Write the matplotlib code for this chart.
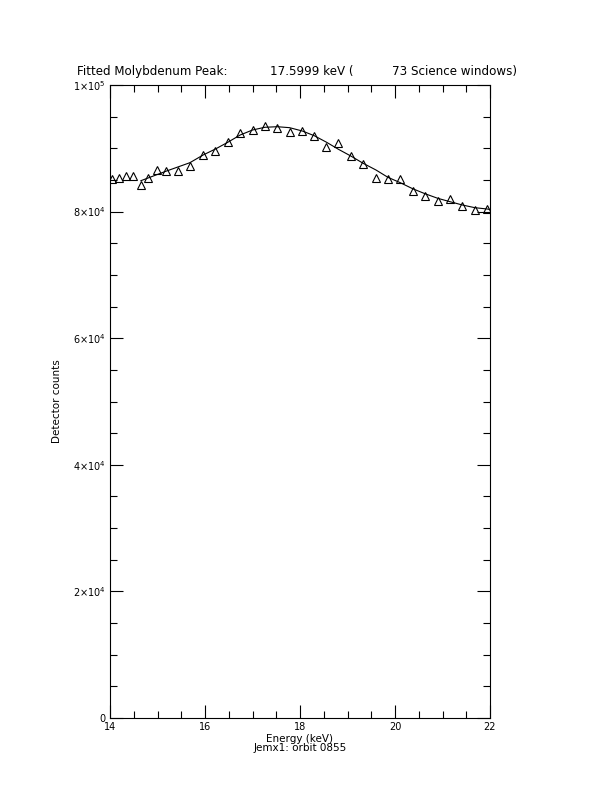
import matplotlib
matplotlib.use("Agg")
import matplotlib.pyplot as plt
from matplotlib.ticker import MultipleLocator, FixedLocator

# measured spectrum (keV, counts)
energy = [14.05, 14.18, 14.34, 14.49, 14.66, 14.81, 14.98, 15.18, 15.44, 15.69,
          15.96, 16.22, 16.48, 16.74, 17.00, 17.26, 17.52, 17.79, 18.05, 18.30,
          18.55, 18.81, 19.07, 19.33, 19.60, 19.85, 20.11, 20.37, 20.63, 20.90,
          21.16, 21.42, 21.68, 21.94]
counts = [85100, 85230, 85670, 85620, 84280, 85230, 86650, 86410, 86490, 87280,
          89020, 89570, 90950, 92460, 92840, 93570, 93250, 92570, 92780, 91990,
          90250, 90890, 88780, 87470, 85310, 85200, 85100, 83300, 82510, 81720,
          82040, 80880, 80300, 80460]

# fitted peak curve
fit_e = [14.65, 15.19, 15.68, 15.96, 16.22, 16.48, 16.74, 17.00, 17.26, 17.52,
         17.78, 18.05, 18.30, 18.56, 18.81, 19.07, 19.33, 19.60, 19.85, 20.11,
         20.37, 20.63, 20.90, 21.16, 21.42, 21.68, 21.94, 22.00]
fit_c = [84880, 86410, 87720, 88940, 89890, 90950, 92100, 92890, 93320, 93410,
         93260, 92730, 91990, 90950, 89840, 88780, 87630, 86570, 85420, 84570,
         83620, 82830, 82100, 81560, 81040, 80620, 80410, 80330]

ytick_vals = [0, 20000, 40000, 60000, 80000, 100000]
ytick_labels = ["0", r"$2{\times}10^{4}$", r"$4{\times}10^{4}$", r"$6{\times}10^{4}$",
                r"$8{\times}10^{4}$", r"$1{\times}10^{5}$"]
xtick_vals = [14, 16, 18, 20, 22]

plt.rcParams['font.family'] = ['DejaVu Sans']
plt.rcParams['mathtext.fontset'] = 'dejavusans'

fig = plt.figure(figsize=(6.12, 7.92), dpi=100)
ax = fig.add_axes([110/612, 1-718/792, 380/612, 633/792])

ax.plot(fit_e, fit_c, color='black', lw=0.8)
ax.plot(energy, counts, linestyle='none', marker='^', markersize=5.5,
        markerfacecolor='none', markeredgecolor='black', markeredgewidth=0.8)

ax.set_xlim(14, 22)
ax.set_ylim(0, 100000)
ax.xaxis.set_major_locator(FixedLocator(xtick_vals))
ax.xaxis.set_minor_locator(MultipleLocator(0.5))
ax.yaxis.set_major_locator(FixedLocator(ytick_vals))
ax.yaxis.set_minor_locator(MultipleLocator(5000))
ax.set_xticklabels([str(v) for v in xtick_vals])
ax.set_yticklabels(ytick_labels)

ax.tick_params(which='both', direction='in', top=True, right=True,
               labelsize=7, width=0.8, pad=3)
ax.tick_params(which='major', length=9.5)
ax.tick_params(which='minor', length=5)
for s in ax.spines.values():
    s.set_linewidth(0.8)

ax.set_xlabel("Energy (keV)\nJemx1: orbit 0855", fontsize=7.5, labelpad=1,
              linespacing=0.95)
ax.set_ylabel("Detector counts", fontsize=7.5, labelpad=8)

# title pieces, spaced like the original
ty = 1 - 75/792
fig.text(77/612, ty, "Fitted Molybdenum Peak:", fontsize=8.6)
fig.text(270/612, ty, "17.5999 keV (", fontsize=8.6)
fig.text(392/612, ty, "73 Science windows)", fontsize=8.6)

fig.savefig("out.png", dpi=100)
